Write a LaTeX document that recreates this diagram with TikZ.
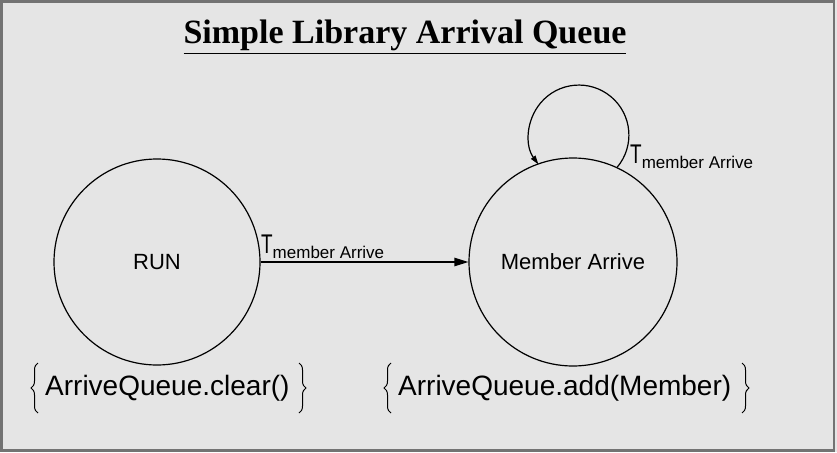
\documentclass[tikz,border=0pt]{standalone}
\usepackage{fontspec}
\setmainfont{Liberation Serif}
\setsansfont{Liberation Sans}
\usetikzlibrary{arrows.meta,decorations.pathreplacing}
\newcommand{\translbl}{{\fontsize{27}{27}\selectfont\scalebox{0.7}[1]{T}}\raisebox{-5pt}{\fontsize{17}{17}\selectfont member Arrive}}
\begin{document}
\begin{tikzpicture}[x=1pt,y=-1pt,
  state/.style={draw, line width=1.2pt, circle, minimum size=#1, inner sep=0pt, font=\sffamily\fontsize{22}{24}\selectfont},
  translabel/.style={font=\sffamily, inner sep=0pt, anchor=base west},
  action/.style={font=\sffamily\fontsize{28}{30}\selectfont, inner sep=0pt, anchor=base west},
  curly/.style={decorate, decoration={brace, amplitude=7pt}, line width=1pt},
  tip/.style={-{Triangle[length=#1,width=0.6*#1]}}]
  % background panel with frame
  \useasboundingbox (0,0) rectangle (837,452);
  \fill[gray!20] (0,0) rectangle (837,452);
  \draw[line width=2.5pt, black!55] (1.5,1.5) rectangle (834,450.5);
  % title
  \node[font=\bfseries\fontsize{34}{36}\selectfont, inner sep=0pt, anchor=base] (title) at (405,44)
    {\underline{Simple Library Arrival Queue}};
  % states
  \node[state=206pt] (run) at (157,262) {RUN};
  \node[state=208pt] (mem) at (573,262) {Member Arrive};
  % transition RUN -> Member Arrive
  \draw[line width=1.2pt, tip=14pt] (run.east) -- (mem.west);
  \node[translabel] (t1) at (261,253) {\translbl};
  % self loop on Member Arrive
  \draw[line width=1.2pt, tip=9pt] (mem.65) arc[start angle=40, end angle=-216, radius=50];
  \node[translabel] (t2) at (630,163) {\translbl};
  % entry actions with braces
  \node[action] (a1) at (45,395) {ArriveQueue.clear()};
  \node[action] (a2) at (398,395) {ArriveQueue.add(Member)};
  \coordinate (b1t) at (38,363); \coordinate (b1b) at (38,413);
  \draw[curly] (b1b) -- (b1t);
  \coordinate (b2t) at (299,363); \coordinate (b2b) at (299,413);
  \draw[curly] (b2t) -- (b2b);
  \coordinate (b3t) at (391,363); \coordinate (b3b) at (391,413);
  \draw[curly] (b3b) -- (b3t);
  \coordinate (b4t) at (742,363); \coordinate (b4b) at (742,413);
  \draw[curly] (b4t) -- (b4b);
\end{tikzpicture}
\end{document}
